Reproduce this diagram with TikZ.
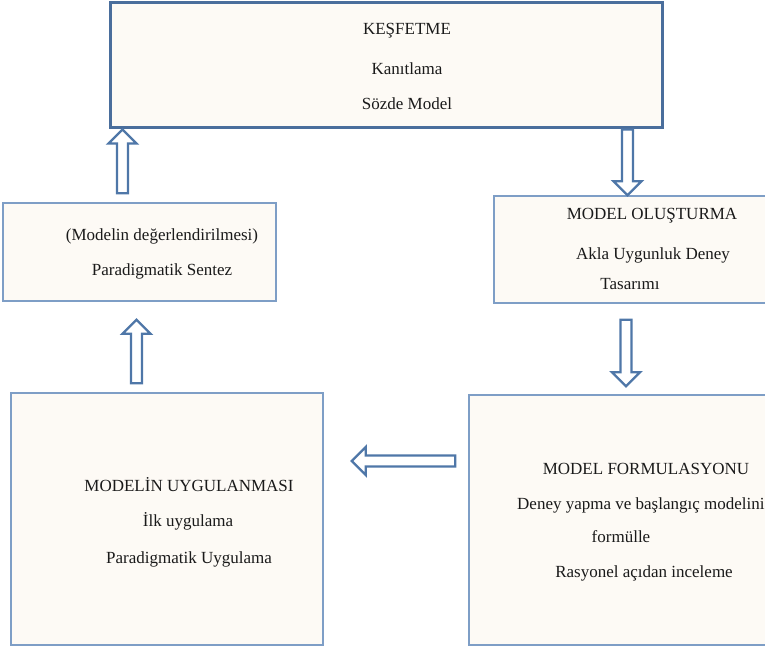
\documentclass[tikz,border=0pt]{standalone}
\usepackage{fontspec}
\setmainfont{Liberation Serif}
\usetikzlibrary{calc,positioning}
\definecolor{frame}{HTML}{4A6E9C}
\definecolor{edge}{HTML}{7E9EC6}
\definecolor{arrowline}{HTML}{4F77A8}
\definecolor{cream}{HTML}{FDFAF5}
\definecolor{ink}{HTML}{1A1A1A}

\begin{document}
\begin{tikzpicture}[x=1pt,y=-1pt,every node/.style={font=\fontsize{17}{20}\selectfont,text=ink,inner sep=0pt},box/.style={draw=edge,line width=1.5pt,fill=cream},mainbox/.style={box,draw=frame,line width=3pt},blockarrow/.style={draw=arrowline,line width=2.3pt,fill=white,to path={($(\tikztostart)!5.5pt!90:(\tikztotarget)$) -- ($(\tikztotarget)!14pt!(\tikztostart)!5.5pt!90:(\tikztotarget)$) -- ($(\tikztotarget)!14pt!(\tikztostart)!14pt!90:(\tikztotarget)$) -- (\tikztotarget) -- ($(\tikztotarget)!14pt!(\tikztostart)!14pt!-90:(\tikztotarget)$) -- ($(\tikztotarget)!14pt!(\tikztostart)!5.5pt!-90:(\tikztotarget)$) -- ($(\tikztostart)!5.5pt!-90:(\tikztotarget)$) -- cycle}}]
\useasboundingbox (0,0) rectangle (765,647);
% the five stages
\node[mainbox,minimum width=552pt,minimum height=125pt] (discover) at (386,65.5) {};
\node[box,minimum width=273pt,minimum height=98pt] (synth) at (139.5,252) {};
\node[box,minimum width=281pt,minimum height=107pt] (build) at (634.5,249.5) {};
\node[box,minimum width=306pt,minimum height=250pt] (form) at (622,520) {};
\node[box,minimum width=312pt,minimum height=252pt] (applic) at (167,519) {};
% texts
\node (discover1) at (407,31) {KEŞFETME};
\node (discover2) at (407,69) {Kanıtlama};
\node (discover3) at (407,104) {Sözde Model};
\node (synth1) at (162,236) {(Modelin değerlendirilmesi)};
\node (synth2) at (162,271) {Paradigmatik Sentez};
\node (build1) at (652,216) {MODEL OLUŞTURMA};
\node (build2) at (653,255) {Akla Uygunluk Deney};
\node (build3) at (630,284) {Tasarımı};
\node (form1) at (646,469) {MODEL FORMULASYONU};
\node[anchor=west] (form2) at (517,505) {Deney yapma ve başlangıç modelini};
\node (form3) at (621,537) {formülle};
\node (form4) at (644,573) {Rasyonel açıdan inceleme};
\node (applic1) at (189,485) {MODELİN UYGULANMASI};
\node (applic2) at (188,521) {İlk uygulama};
\node (applic3) at (189,559) {Paradigmatik Uygulama};
% block arrows between the stages
\coordinate (a0) at ([shift={(-17,-9)}]synth.north);
\coordinate (b1) at ([shift={(-7,0)}]build.north);
\coordinate (c1) at ([shift={(4,-8)}]form.north);
\coordinate (d0) at ([shift={(-13,-59)}]form.west);
\coordinate (e0) at ([shift={(-30.5,-9)}]applic.north);
\draw[blockarrow] (a0) to (a0 |- discover.south);
\draw[blockarrow] (b1 |- discover.south) to (b1);
\draw[blockarrow] ([yshift=-16pt]c1 |- build.south) to (c1);
\draw[blockarrow] (d0) to ([xshift=28pt]d0 -| applic.east);
\draw[blockarrow] (e0) to ([yshift=-18pt]e0 |- synth.south);
\end{tikzpicture}
\end{document}
